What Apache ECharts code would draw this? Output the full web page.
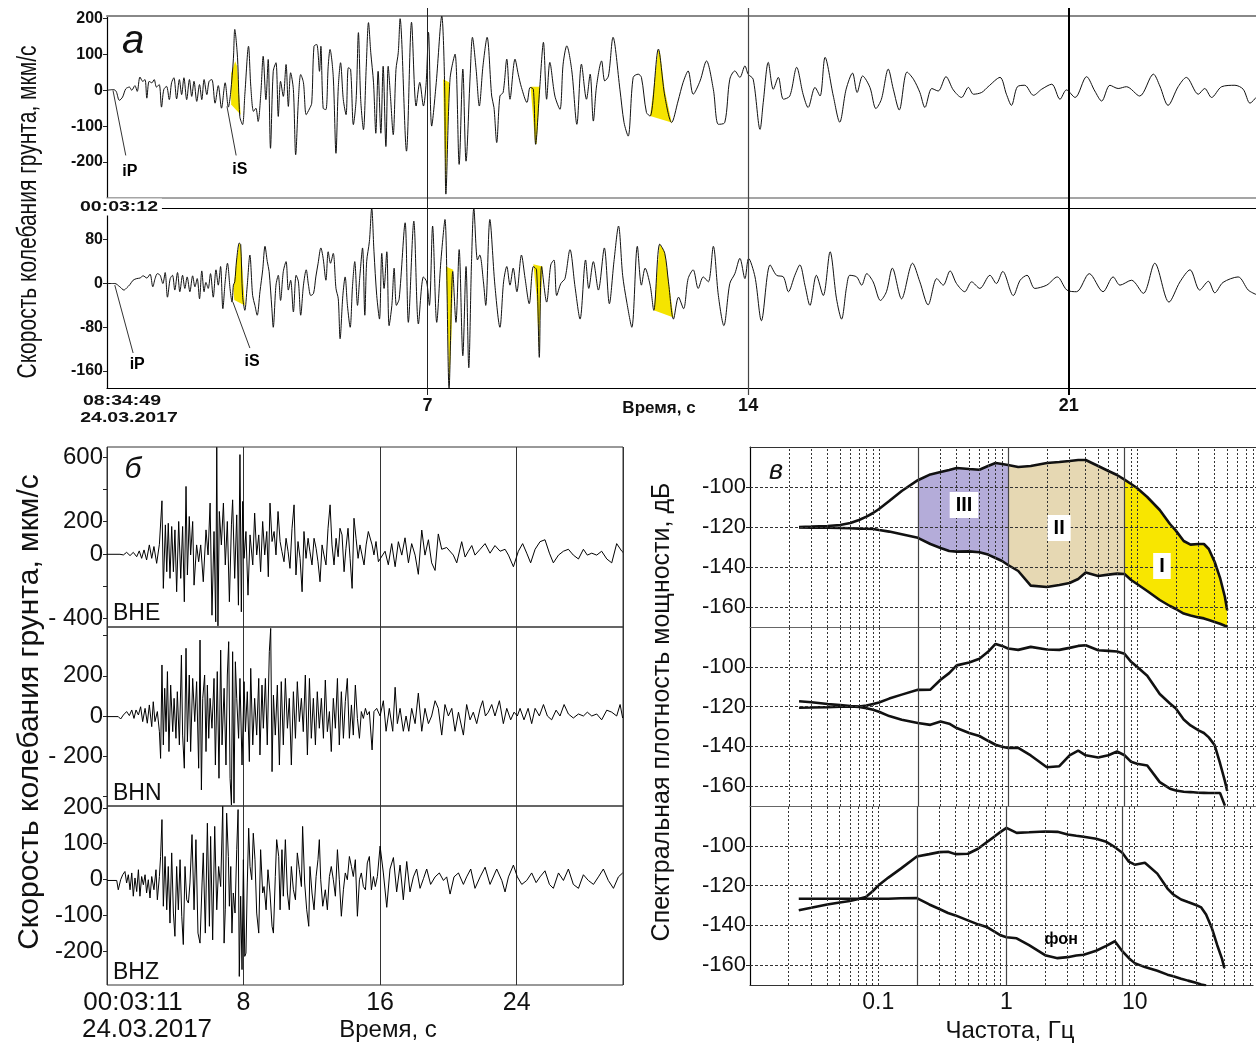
<!DOCTYPE html>
<html><head><meta charset="utf-8">
<script src="https://cdn.jsdelivr.net/npm/echarts@6/dist/echarts.min.js"></script>
<style>html,body{margin:0;padding:0;background:#fff}#c{width:1256px;height:1043px}</style>
</head><body><div id="c"></div>
<script>
// ---------------- DATA ----------------
// Panel a: time (s) from 08:34:49, velocity (mkm/s)
const traceA1 = [[0,0],[0.14,2],[0.20,-3],[0.27,-28],[0.34,-19],[0.41,4],[0.49,9],[0.54,0],[0.61,13],[0.66,-3],[0.72,37],[0.78,25],[0.83,30],[0.87,-22],[0.92,25],[0.98,21],[1.03,30],[1.08,9],[1.14,16],[1.19,-47],[1.24,2],[1.30,11],[1.36,-26],[1.41,21],[1.46,35],[1.52,-24],[1.58,30],[1.63,-12],[1.68,35],[1.74,-26],[1.80,30],[1.85,-17],[1.90,25],[1.96,-31],[2.02,16],[2.07,-26],[2.12,30],[2.18,-12],[2.23,25],[2.29,30],[2.36,-36],[2.43,13],[2.50,-50],[2.58,21],[2.65,-47],[2.70,-7],[2.76,88],[2.79,170],[2.85,91],[2.90,-73],[2.96,-96],[3.01,-12],[3.09,123],[3.14,11],[3.20,-59],[3.25,-50],[3.30,-87],[3.36,-7],[3.41,95],[3.47,-26],[3.52,86],[3.57,-162],[3.63,53],[3.69,77],[3.74,-73],[3.79,25],[3.85,-17],[3.91,72],[3.96,-45],[4.01,49],[4.07,2],[4.12,-180],[4.18,-26],[4.23,44],[4.29,21],[4.35,-68],[4.42,-52],[4.47,-36],[4.52,123],[4.58,128],[4.64,53],[4.67,123],[4.72,-50],[4.78,-54],[4.83,67],[4.87,114],[4.94,39],[5.00,-176],[5.05,7],[5.10,77],[5.16,-26],[5.22,-68],[5.27,63],[5.32,58],[5.38,-96],[5.44,-26],[5.49,161],[5.54,-26],[5.60,-110],[5.66,63],[5.71,189],[5.76,105],[5.82,21],[5.87,-120],[5.92,53],[5.98,-120],[6.03,67],[6.09,-157],[6.14,67],[6.19,-17],[6.25,-124],[6.31,58],[6.36,105],
[6.40,200],[6.54,-170],[6.65,190],[6.75,-44],[6.83,22],[6.91,-44],[6.97,22],[7.02,162],[7.09,-100],[7.19,22],[7.31,207],[7.37,31],[7.40,-290],[7.49,31],[7.60,101],[7.69,-207],[7.77,59],[7.84,-198],[7.93,40],[7.98,148],[8.06,59],[8.13,-44],[8.21,68],[8.30,148],[8.40,-16],[8.45,-48],[8.51,-146],[8.58,-16],[8.65,-6],[8.73,87],[8.80,-25],[8.91,87],[8.98,45],[9.05,8],[9.17,-34],[9.24,8],[9.31,3],[9.36,-151],[9.45,8],[9.53,134],[9.60,-25],[9.67,78],[9.78,-16],[9.89,-53],[9.96,73],[10.04,124],[10.15,54],[10.26,-95],[10.36,73],[10.47,-25],[10.55,45],[10.62,-86],[10.69,12],[10.80,82],[10.87,26],[10.95,40],[11.05,148],[11.20,3],[11.29,-90],[11.38,-128],[11.49,36],[11.60,45],[11.67,36],[11.78,-62],[11.86,-72],[12.04,115],[12.18,-16],[12.33,-90],[12.47,-30],[12.58,22],[12.69,54],[12.80,-11],[12.95,26],[13.09,82],[13.24,3],[13.35,-95],[13.49,-90],[13.60,31],[13.71,54],[13.82,36],[13.93,68],[14.00,45],[14.11,31],[14.26,-109],[14.33,-34],[14.44,78],[14.55,3],[14.66,36],[14.77,-25],[14.91,-16],[15.06,64],[15.20,-11],[15.31,-48],[15.46,8],[15.57,-16],
[15.68,92],[15.86,-16],[16.00,-89],[16.14,3],[16.28,48],[16.38,-6],[16.50,40],[16.66,8],[16.79,-51],[16.91,-25],[17.06,59],[17.17,3],[17.30,-55],[17.47,51],[17.61,31],[17.75,-6],[17.86,-48],[18.01,5],[18.15,-2],[18.32,38],[18.48,1],[18.66,-20],[18.81,8],[18.92,-11],[19.10,-6],[19.24,10],[19.50,36],[19.64,-11],[19.75,-42],[19.88,10],[20.04,14],[20.23,-14],[20.41,3],[20.63,17],[20.81,-25],[20.95,1],[21.14,-20],[21.39,38],[21.57,-2],[21.72,-30],[21.90,14],[22.08,5],[22.26,10],[22.55,-16],[22.85,45],[22.99,12],[23.17,-42],[23.39,10],[23.57,36],[23.83,-11],[23.97,5],[24.12,-20],[24.34,10],[24.63,14],[24.81,3],[24.96,-36],[25.09,-20]];

const traceA2 = [[0,0],[0.17,0],[0.28,-6],[0.37,-12],[0.43,-8],[0.50,-2],[0.57,6],[0.65,9],[0.72,10],[0.79,14],[0.87,10],[0.94,17],[1.00,-6],[1.05,9],[1.10,18],[1.16,15],[1.22,0],[1.27,20],[1.32,-25],[1.38,9],[1.43,15],[1.48,-12],[1.54,20],[1.59,-15],[1.65,15],[1.70,-9],[1.75,12],[1.81,-15],[1.87,14],[1.92,-6],[1.97,9],[2.02,-28],[2.07,23],[2.12,-15],[2.16,2],[2.21,-9],[2.26,18],[2.32,-25],[2.38,25],[2.43,-3],[2.48,31],[2.53,-46],[2.58,3],[2.63,37],[2.69,-12],[2.73,-34],[2.76,-3],[2.79,3],[2.83,43],[2.89,74],[2.92,71],[2.96,-22],[3.01,-49],[3.06,-6],[3.12,52],[3.18,-22],[3.23,-40],[3.28,-58],[3.34,-15],[3.40,25],[3.45,68],[3.50,40],[3.54,22],[3.60,-46],[3.63,-80],[3.69,-3],[3.74,15],[3.79,-31],[3.85,22],[3.91,40],[3.96,-12],[4.01,6],[4.07,-52],[4.13,15],[4.18,3],[4.23,-58],[4.29,-3],[4.35,25],[4.40,-3],[4.45,-22],[4.51,-18],[4.56,12],[4.61,37],[4.67,65],[4.72,46],[4.78,6],[4.83,58],[4.88,37],[4.94,55],[5.00,-9],[5.05,-28],[5.09,-101],[5.15,-22],[5.20,12],[5.25,-40],[5.31,-80],[5.36,-6],[5.41,40],[5.47,-40],[5.52,12],[5.58,65],[5.63,-58],[5.67,40],[5.73,77],[5.78,138],[5.83,58],[5.89,-22],[5.95,-65],[6.00,55],[6.05,-9],[6.11,58],[6.16,-77],[6.22,-40],[6.27,28],[6.32,-40],[6.38,-28],
[6.51,111],[6.58,-71],[6.70,114],[6.80,-74],[6.91,12],[6.98,3],[7.04,-40],[7.11,105],[7.20,-71],[7.29,40],[7.38,117],[7.47,-191],[7.55,22],[7.62,-71],[7.69,62],[7.77,-132],[7.84,31],[7.90,-154],[7.96,40],[8.01,138],[8.09,43],[8.14,52],[8.22,3],[8.27,-40],[8.36,117],[8.47,-3],[8.58,-80],[8.66,3],[8.73,31],[8.80,-3],[8.87,28],[8.95,-15],[9.05,52],[9.13,9],[9.22,-37],[9.31,31],[9.38,25],[9.44,-135],[9.49,31],[9.60,-34],[9.69,34],[9.76,43],[9.82,-22],[9.91,0],[10.00,9],[10.11,62],[10.22,-6],[10.33,-65],[10.45,43],[10.52,-9],[10.62,40],[10.73,-12],[10.86,65],[10.97,-37],[11.07,40],[11.17,105],[11.26,15],[11.35,-34],[11.46,-80],[11.58,68],[11.67,-3],[11.75,28],[11.86,-3],[11.94,-49],[12.07,72],[12.18,55],[12.26,3],[12.37,-65],[12.48,-25],[12.59,-46],[12.69,9],[12.80,25],[12.91,-9],[13.02,12],[13.13,3],[13.24,68],[13.35,-22],[13.47,-77],[13.60,0],[13.71,18],[13.82,46],[13.93,9],[14.01,46],[14.15,12],[14.29,-68],[14.48,34],[14.62,15],[14.77,12],[14.88,-15],[15.02,15],[15.13,34],[15.24,-3],[15.35,-40],[15.49,15],[15.64,-22],
[15.79,58],[15.93,-28],[16.04,-65],[16.15,-6],[16.22,15],[16.37,12],[16.48,-3],[16.59,18],[16.73,3],[16.89,-31],[17.02,-15],[17.15,28],[17.35,-28],[17.59,37],[17.75,3],[17.93,-39],[18.12,9],[18.26,-3],[18.41,23],[18.55,0],[18.73,-15],[18.88,3],[19.06,-9],[19.28,15],[19.42,0],[19.56,22],[19.79,-22],[19.94,6],[20.09,15],[20.26,-9],[20.52,-3],[20.75,12],[20.96,-12],[21.17,-15],[21.45,18],[21.75,-15],[21.97,12],[22.12,-3],[22.37,6],[22.63,-18],[22.88,37],[23.19,-34],[23.43,3],[23.65,25],[23.86,-12],[24.05,4],[24.19,-17],[24.37,2],[24.70,12],[24.92,-12],[25.09,-20]];

// yellow highlighted half-periods (vertices, data units)
const fillsA1 = [
  [[2.71,47],[2.80,81],[2.84,67],[2.92,-68],[2.71,-40]],
  [[7.34,31],[7.48,22],[7.43,-130],[7.40,-290],[7.36,-100]],
  [[9.25,10],[9.46,10],[9.38,-150],[9.35,-150]],
  [[11.86,-72],[12.04,115],[12.08,100],[12.18,0],[12.33,-90]]
];
const fillsA2 = [
  [[2.76,-10],[2.83,43],[2.89,74],[2.92,71],[3.01,-40],[2.78,-30]],
  [[7.40,31],[7.56,25],[7.52,-100],[7.47,-190],[7.44,-60]],
  [[9.31,35],[9.51,31],[9.45,-74],[9.44,-135],[9.38,-22]],
  [[11.94,-49],[12.07,72],[12.18,57],[12.37,-62]]
];
const phaseNames = ['iP','iS'];
const phaseA1 = [[0.50,-227],[2.90,-221]];
const leadA1 = [[[0.13,0],[0.41,-182]],[[2.62,-45],[2.82,-182]]];
const phaseA2 = [[0.66,-149],[3.17,-143]];
const leadA2 = [[[0.17,-3],[0.57,-127]],[[2.75,-34],[3.12,-118]]];

const ticksA1 = [200,100,0,-100,-200];
const ticksA2 = [80,0,-80,-160];
const timeTicksA = [7,14,21];

// Panel б: time (s) from 00:03:11
const traceBHE = [[0,-2],[0.76,-2],[0.96,-6],[1.15,10],[1.35,-10],[1.54,10],[1.74,-17],[1.89,19],[2.03,-27],[2.17,25],[2.32,-37],[2.48,56],[2.62,-27],[2.75,46],[2.91,-58],[3.07,60],[3.16,56],[3.22,329],[3.30,-213],[3.42,180],[3.50,-110],[3.59,190],[3.69,-151],[3.79,170],[3.89,-110],[3.98,149],[4.08,-234],[4.20,201],[4.32,-151],[4.43,170],[4.53,-296],[4.63,418],[4.71,-130],[4.82,232],[4.90,-6],[5.02,201],[5.10,-193],[5.25,56],[5.37,-48],[5.49,56],[5.64,-172],[5.80,149],[5.92,-6],[6.04,315],[6.15,-379],[6.27,139],[6.37,-420],[6.43,660],[6.50,-445],[6.58,263],[6.70,56],[6.82,315],[6.93,-68],[7.05,201],[7.17,-296],[7.29,180],[7.36,335],[7.48,-151],[7.60,242],[7.70,-317],[7.79,615],[7.87,-358],[7.95,325],[8.03,-27],[8.14,139],[8.26,-255],[8.38,118],[8.54,-68],[8.65,253],[8.77,-6],[8.89,118],[9.00,-110],[9.12,201],[9.24,-6],[9.36,139],[9.45,-141],[9.55,315],[9.67,77],[9.79,139],[9.90,-6],[10.02,263],[10.14,77],[10.25,14],[10.37,-48],[10.49,97],[10.61,14],[10.72,-89],[10.84,159],[10.96,304],[11.07,-130],[11.19,77],[11.31,-27],[11.43,-234],[11.54,139],[11.66,-27],[11.78,97],[11.89,14],[12.01,-68],[12.13,97],[12.25,35],[12.36,-48],[12.48,-172],[12.60,56],[12.71,-6],[12.83,-68],[12.95,159],[13.07,304],[13.18,56],[13.30,-68],[13.42,97],[13.54,-17],[13.65,159],[13.77,118],[13.89,-110],[14.00,35],[14.12,159],[14.24,-27],[14.36,-213],[14.47,221],[14.59,97],[14.71,-27],[14.82,56],[14.94,-6],[15.06,-68],[15.18,56],[15.31,139],[15.41,149],[15.53,56],[15.64,-6],[15.76,77],[15.90,-48],
[16.0,-31],[16.29,17],[16.48,-67],[16.68,64],[16.88,-79],[17.07,76],[17.27,-7],[17.46,100],[17.66,-55],[17.85,64],[18.05,-7],[18.24,-126],[18.44,148],[18.63,-7],[18.83,88],[19.02,-55],[19.22,-102],[19.41,124],[19.61,29],[19.90,40],[20.29,-7],[20.49,-55],[20.78,76],[20.98,-19],[21.17,17],[21.37,52],[21.56,-7],[21.86,29],[22.15,64],[22.44,5],[22.73,52],[23.03,17],[23.32,29],[23.52,-7],[23.81,-79],[24.10,17],[24.35,64],[24.59,5],[24.82,-55],[25.08,29],[25.37,76],[25.66,88],[25.92,5],[26.15,-55],[26.45,-7],[26.74,17],[27.03,29],[27.32,-7],[27.62,-31],[27.91,29],[28.14,-7],[28.40,5],[28.69,-7],[28.98,17],[29.28,-31],[29.57,-55],[29.86,64],[30.16,17],[30.23,10]];

const traceBHN = [[0,-3],[0.66,-3],[0.80,-15],[0.96,5],[1.15,22],[1.31,2],[1.45,30],[1.58,-12],[1.70,30],[1.84,5],[1.97,46],[2.09,-28],[2.23,38],[2.36,-36],[2.48,55],[2.62,-53],[2.71,71],[2.81,-28],[2.95,22],[3.07,-78],[3.14,-211],[3.22,254],[3.30,-144],[3.38,138],[3.46,-78],[3.54,221],[3.63,-177],[3.73,154],[3.85,-78],[3.93,88],[4.04,-111],[4.12,121],[4.24,-144],[4.36,303],[4.43,-95],[4.53,-260],[4.63,337],[4.71,-128],[4.82,204],[4.90,-177],[5.02,187],[5.14,-28],[5.25,171],[5.37,-260],[5.45,378],[5.53,-368],[5.61,88],[5.72,204],[5.80,-177],[5.88,154],[5.96,-111],[6.04,88],[6.15,-61],[6.27,187],[6.35,-244],[6.46,221],[6.56,-310],[6.66,328],[6.74,-144],[6.86,138],[6.97,-244],[7.05,204],[7.13,370],[7.21,-310],[7.29,-443],[7.36,320],[7.44,-434],[7.52,270],[7.60,88],[7.71,-111],[7.79,187],[7.91,-244],[8.03,171],[8.11,-78],[8.22,121],[8.34,-227],[8.42,237],[8.54,-144],[8.65,88],[8.77,-95],[8.89,187],[8.96,-194],[9.08,154],[9.16,-61],[9.28,187],[9.39,-144],[9.51,320],[9.59,436],[9.67,-277],[9.75,104],[9.86,-95],[9.98,154],[10.10,-244],[10.21,171],[10.33,-144],[10.45,187],[10.57,-61],[10.68,88],[10.80,-244],[10.92,121],[11.04,-111],[11.15,171],[11.27,-28],[11.39,88],[11.50,-78],[11.62,204],[11.74,-194],[11.86,187],[11.97,-111],[12.09,88],[12.21,-144],[12.32,121],[12.44,-61],[12.56,88],[12.68,-111],[12.79,179],[12.91,-78],[13.03,22],[13.14,-177],[13.26,88],[13.38,-61],[13.50,187],[13.61,-144],[13.73,121],[13.85,-111],[13.96,71],[14.08,187],[14.20,-111],[14.32,55],[14.43,-95],[14.55,154],[14.67,-12],[14.79,-111],[14.90,22],[15.02,-12],[15.14,38],[15.25,5],[15.37,22],[15.53,-169],[15.64,22],[15.80,38],
[16.0,0],[16.19,76],[16.35,-76],[16.54,38],[16.74,-76],[16.88,143],[17.01,-38],[17.17,38],[17.36,-76],[17.52,0],[17.68,-76],[17.85,38],[18.05,-38],[18.24,114],[18.44,-76],[18.63,38],[18.83,-38],[19.02,0],[19.22,76],[19.41,38],[19.61,-95],[19.80,57],[20.0,0],[20.20,38],[20.39,-76],[20.59,19],[20.88,-95],[21.07,57],[21.27,-19],[21.46,19],[21.66,-38],[21.86,38],[22.01,76],[22.17,0],[22.34,19],[22.54,57],[22.73,0],[22.99,76],[23.22,-38],[23.42,38],[23.65,-19],[23.85,19],[24.04,0],[24.20,38],[24.43,-19],[24.67,38],[24.88,-38],[25.08,38],[25.33,0],[25.57,57],[25.80,0],[26.05,-19],[26.31,29],[26.54,0],[26.78,57],[27.03,10],[27.32,-10],[27.62,10],[27.91,0],[28.14,19],[28.40,0],[28.69,10],[28.98,-19],[29.28,29],[29.57,19],[29.86,0],[30.06,57],[30.21,-10]];

const traceBHZ = [[0,-3],[0.57,-3],[0.66,-29],[0.80,-1],[0.92,13],[1.05,22],[1.15,-10],[1.25,13],[1.35,-29],[1.45,18],[1.54,-47],[1.64,4],[1.74,-34],[1.84,27],[1.93,-47],[2.03,8],[2.13,-15],[2.23,13],[2.32,-38],[2.42,-1],[2.52,-52],[2.62,8],[2.75,-29],[2.87,27],[2.95,-57],[3.07,8],[3.14,64],[3.22,167],[3.30,-75],[3.40,64],[3.50,-85],[3.59,36],[3.69,-122],[3.79,74],[3.89,-94],[3.98,-159],[4.08,36],[4.18,-85],[4.28,55],[4.38,-103],[4.47,-182],[4.57,36],[4.67,-57],[4.77,-66],[4.86,-10],[4.98,125],[5.10,-85],[5.21,111],[5.33,-150],[5.45,-178],[5.57,-10],[5.64,74],[5.76,-150],[5.88,157],[6.00,-131],[6.07,120],[6.19,-169],[6.31,148],[6.43,-85],[6.54,36],[6.66,-20],[6.78,204],[6.86,-178],[6.93,-85],[7.01,185],[7.11,64],[7.17,-75],[7.25,36],[7.32,-150],[7.40,-38],[7.50,-94],[7.60,83],[7.68,195],[7.75,-271],[7.83,-47],[7.91,-252],[7.99,55],[8.07,-215],[8.14,-206],[8.22,-10],[8.30,143],[8.38,36],[8.48,-1],[8.57,129],[8.67,55],[8.77,-94],[8.89,-150],[9.00,83],[9.12,-38],[9.20,-20],[9.32,-85],[9.43,27],[9.55,-38],[9.67,-131],[9.75,-150],[9.86,8],[9.94,111],[10.06,64],[10.14,-85],[10.25,83],[10.33,-47],[10.45,111],[10.57,-38],[10.68,-85],[10.80,36],[10.92,-29],[11.04,-57],[11.15,74],[11.27,27],[11.39,-20],[11.46,148],[11.58,-10],[11.70,-85],[11.82,-131],[11.89,36],[12.01,-38],[12.13,-85],[12.25,8],[12.36,55],[12.44,111],[12.52,-1],[12.64,-75],[12.79,-29],[12.91,-85],[13.03,8],[13.14,36],[13.26,-1],[13.38,-47],[13.50,83],[13.61,-1],[13.73,-103],[13.85,-29],[13.96,18],[14.08,-1],[14.20,64],[14.32,36],[14.43,8],[14.55,55],[14.67,-103],[14.79,-1],[14.90,18],[15.02,-20],[15.14,-29],[15.25,46],[15.37,64],[15.49,-29],[15.61,8],[15.72,-20],[15.84,8],
[16.0,93],[16.19,18],[16.39,-78],[16.58,29],[16.78,61],[16.97,-35],[17.17,40],[17.36,-57],[17.56,50],[17.75,-35],[17.95,7],[18.14,29],[18.34,-25],[18.54,2],[18.73,29],[18.96,-14],[19.22,7],[19.47,18],[19.71,-3],[19.90,7],[20.10,-41],[20.33,7],[20.59,18],[20.88,-14],[21.07,7],[21.31,29],[21.56,-25],[21.86,7],[22.15,34],[22.44,-14],[22.83,29],[23.13,-3],[23.32,-35],[23.52,7],[23.81,40],[24.04,7],[24.30,-14],[24.59,-3],[24.88,18],[25.14,-9],[25.37,7],[25.66,24],[25.92,-14],[26.15,-25],[26.45,18],[26.74,-3],[27.03,29],[27.32,-14],[27.62,-25],[27.91,13],[28.20,-3],[28.50,-14],[28.79,7],[29.08,29],[29.37,-3],[29.67,-25],[29.96,7],[30.21,18]];

const channelNames = ['BHE','BHN','BHZ'];
const ticksBHE = [600,200,0,-400], minorBHE = [600,400,200,0,-200,-400];
const ticksBHN = [200,0,-200], minorBHN = [400,200,0,-200,-400];
const ticksBHZ = [200,100,0,-100,-200];
const timeTicksB = [8,16,24];

// Panel в: power spectral density (dB) vs frequency (Hz)
const freq = [0.024,0.03,0.04,0.05,0.06,0.07,0.08,0.09,0.1,0.12,0.15,0.2,0.25,0.3,0.35,0.4,0.5,0.6,0.7,0.8,0.9,1,1.2,1.5,2,2.5,3,3.5,4,5,6,7,8,9,10,12,15,18,20,23,26,30,33,36,40,44,48,50];
const specTopUpper = [-120,-119.8,-119.5,-119,-118,-116.5,-114.8,-113,-111,-107,-102,-96.6,-93.7,-92.5,-91.5,-90.5,-91,-91.4,-89.5,-88,-88.5,-89,-90,-89.5,-88,-87.5,-87,-86.5,-86.5,-89.5,-92,-94,-96.3,-98.5,-100.5,-105,-111.5,-118.5,-121.8,-127,-128.8,-128.5,-128.5,-131,-137.5,-145.4,-155,-161.7];
const specTopLower = [-120.2,-120.3,-120.4,-120.5,-120.6,-120.8,-120.9,-121,-121.5,-122.3,-123.6,-125.4,-128.5,-130.5,-132,-132.3,-132.2,-132.6,-133.8,-135.5,-137,-139,-142,-149.3,-150,-149,-148,-146,-142.8,-144.5,-143.8,-143.3,-143.5,-146.5,-148.5,-152,-156.5,-159.5,-161,-163.3,-164.2,-165.2,-165.7,-166.5,-167.5,-168.4,-169.4,-169.6];
const specMidUpper = [-117.3,-117.8,-118.7,-119.3,-119.8,-120,-119.5,-118.7,-118,-116,-114,-111.6,-111.5,-106.5,-103.2,-99.3,-97.8,-96,-92.5,-88.5,-89.5,-90.8,-91.5,-90,-91.3,-91.5,-90.5,-89.5,-89.2,-91.7,-92,-92.3,-93.5,-97.5,-100,-104.5,-113.7,-118.5,-121,-126.5,-129.5,-132,-133.3,-135.5,-139.5,-148.5,-157.5,-162.5];
const specMidLower = [-120.6,-120.5,-120.3,-120.1,-120,-120.2,-120.8,-121.6,-122.6,-124.8,-126.6,-128.3,-129.2,-127.5,-128.6,-130.8,-133.3,-134.8,-137.2,-139.2,-140.2,-140.8,-140.8,-144.6,-150.5,-150,-144.5,-142.2,-144.5,-145.6,-144.5,-142.6,-144.5,-147.8,-148.8,-149.6,-158,-161.3,-162.2,-162.8,-163,-163.3,-163.4,-163.5,-163.5,-163.5,-169.8,null];
const specBotUpper = [-132.4,-131.2,-129.5,-128.5,-127.8,-126.8,-125.7,-123,-120,-116,-111.5,-105.4,-104.2,-103.2,-103,-104.2,-104,-101.5,-98.2,-95.5,-93,-91,-93.5,-93.2,-92.8,-93,-94.3,-95,-95.5,-96.5,-98,-100.7,-103.5,-108,-109.5,-108.5,-114,-121.5,-124.5,-127,-128.3,-129.8,-131,-134.5,-141.5,-150,-157,-161.6];
const specBotLower = [-126.6,-126.6,-126.6,-126.6,-126.6,-126.6,-126.6,-126.6,-126.6,-126.6,-126.4,-126.3,-129.5,-131.8,-133.8,-135,-137.5,-139.5,-140.8,-143,-145,-146,-146.5,-150,-155,-156.5,-156,-155.2,-154.8,-152.8,-150.3,-148,-153,-156.5,-159,-161,-162.8,-164.8,-165.6,-166.8,-167.8,-168.9,-169.7,-170.3,null,null,null,null];
const bandEdges = [0.2, 1, 8, 50];
const bandNames = ['III','II','I'];
const bandLabelPos = [[0.456,-109],[2.49,-120.5],[15.6,-139.5]];
const noiseLabel = 'фон', noiseLabelPos = [2.67,-147];
const dbTicks = [-100,-120,-140,-160];
const freqTickLabels = [0.1, 1, 10];
const gridFreqs = [0.02,0.03,0.04,0.05,0.06,0.07,0.08,0.09,0.1,0.2,0.3,0.4,0.5,0.6,0.7,0.8,0.9,1,2,3,4,5,6,7,8,9,10,20,30,40,50,60,70,80];
const solidFreqs = [0.2, 1, 8];

// ---------------- CHART ----------------
const FONT = "'Liberation Sans', Arial, sans-serif";
const INK = '#111';
const chart = echarts.init(document.getElementById('c'), null, {renderer:'canvas', width:1256, height:1043});

function trace(data, xi, yi, w, color, smooth){
  return {type:'line', data, xAxisIndex:xi, yAxisIndex:yi, showSymbol:false, symbol:'none', smooth:smooth||false,
    lineStyle:{width:w, color}, itemStyle:{color}, z:3, silent:true, animation:false, clip:true};
}
function polys(list, xi, yi, color){
  return {type:'custom', xAxisIndex:xi, yAxisIndex:yi, silent:true, z:2, animation:false,
    data: list.map((p,i)=>[p[0][0], p[0][1], i]),
    renderItem:(params, api)=>({type:'polygon', shape:{points:list[params.dataIndex].map(p=>api.coord(p))}, style:{fill:'#f5e400'}})};
}
function leaders(list, xi, yi){
  const d = [];
  list.forEach(seg=>{ d.push(seg[0], seg[1], [seg[1][0], null]); });
  return {type:'line', data:d, xAxisIndex:xi, yAxisIndex:yi, showSymbol:false, symbol:'none', connectNulls:false,
    lineStyle:{width:1, color:'#333'}, z:3, silent:true, animation:false};
}
function textPoints(pos, names, xi, yi, style){
  return {type:'scatter', xAxisIndex:xi, yAxisIndex:yi, symbolSize:1, silent:true, z:6, animation:false,
    itemStyle:{color:'rgba(0,0,0,0)'},
    data: pos.map((p,i)=>({value:p, name:names[i]})),
    label:Object.assign({show:true, position:'inside', formatter:'{b}', color:'#000', textBorderWidth:0, textBorderColor:'transparent', opacity:1, fontFamily:FONT}, style)};
}
function spec(up, lo, xi, yi){
  return [
    trace(freq.map((f,i)=>[f, up[i]]), xi, yi, 2.6, '#111'),
    trace(freq.map((f,i)=>[f, lo[i]]), xi, yi, 2.6, '#111')
  ];
}
function specGrid(xi, yi){
  const d = [];
  gridFreqs.forEach(f=>d.push({xAxis:f, lineStyle:{color:'#333', type:[2,2], width:1}}));
  dbTicks.forEach(v=>d.push({yAxis:v, lineStyle:{color:'#333', type:[3,2], width:1}}));
  solidFreqs.forEach(f=>d.push({xAxis:f, lineStyle:{color:'#444', type:'solid', width:1.2}}));
  return {type:'line', xAxisIndex:xi, yAxisIndex:yi, data:[[1,-500]], showSymbol:false, symbol:'none', lineStyle:{width:0}, z:2, silent:true, animation:false,
    markLine:{silent:true, symbol:['none','none'], label:{show:false}, animation:false, data:d}};
}

const grids = [
  {left:107, top:16, width:1149, height:181.7},          // 0 A1
  {left:107, top:208, width:1149, height:180},           // 1 A2
  {left:107, top:8, width:1149, height:387},             // 2 overlay a
  {left:107, top:447, width:516, height:180, show:true, borderColor:'#333', borderWidth:1}, // 3 BHE
  {left:107, top:627, width:516, height:179, show:true, borderColor:'#333', borderWidth:1}, // 4 BHN
  {left:107, top:806, width:516, height:179, show:true, borderColor:'#333', borderWidth:1}, // 5 BHZ
  {left:750, top:447, width:506, height:180},            // 6 C1
  {left:750, top:627, width:506, height:179},            // 7 C2
  {left:750, top:806, width:506, height:179}             // 8 C3
];

const TMAXA = 25.09, TMAXB = 30.23, FMIN = 0.01, FMAX = 83.6;
function xA(gi, pos, color, labels, w){
  return {type:'value', gridIndex:gi, position:pos, min:0, max:TMAXA,
    axisLine:{show:true, onZero:false, lineStyle:{color, width:w||1.2}}, axisTick:{show:false},
    axisLabel: labels ? {customValues:labels, fontSize:18, fontWeight:'bold', color:INK, margin:9, fontFamily:FONT} : {show:false},
    splitLine:{show:false}};
}
function xB(gi, labels){
  return {type:'value', gridIndex:gi, min:0, max:TMAXB, interval:8,
    axisLine:{show:false}, axisTick:{show:false},
    axisLabel: labels ? {fontSize:25, color:INK, margin:6, fontFamily:FONT, formatter:v=>timeTicksB.includes(v)?String(v):''} : {show:false},
    splitLine:{show:true, lineStyle:{color:'#333', width:1}}};
}
function xC(gi, pos, labels, lineColor){
  return {type:'log', logBase:10, gridIndex:gi, position:pos, min:FMIN, max:FMAX,
    axisLine:{show:true, onZero:false, lineStyle:{color:lineColor, width:1.2}}, axisTick:{show:false},
    axisLabel: labels ? {fontSize:23, color:INK, margin:6, fontFamily:FONT, formatter:v=>{const s=+(+v).toPrecision(3); return freqTickLabels.includes(s)?String(s):'';}} : {show:false},
    splitLine:{show:false}, minorSplitLine:{show:false}};
}
function yAx(gi, min, max, labels, ticks, size, bold, fmt, lineShow){
  return {type:'value', gridIndex:gi, min, max,
    axisLine:{show:lineShow!==false, onZero:false, lineStyle:{color:'#000', width:1.2}},
    axisTick:{show:true, customValues:ticks, length:4, lineStyle:{color:'#222'}},
    axisLabel:{customValues:labels, fontSize:size, fontWeight:bold?'bold':'normal', color:INK, margin:4, fontFamily:FONT, formatter:fmt||(v=>String(v))},
    splitLine:{show:false}};
}
const spaced = v => String(v).replace('-', '- ');

const option = {
  animation:false,
  backgroundColor:'#fff',
  textStyle:{fontFamily:FONT},
  grid:grids,
  xAxis:[
    xA(0,'bottom','#888',null,1.5),      //0
    xA(0,'top','#888',null,2),           //1
    xA(1,'bottom','#000',timeTicksA),    //2
    xA(1,'top','#000',null),             //3
    {type:'value', gridIndex:2, min:0, max:TMAXA, show:false}, //4
    xB(3,false), xB(4,false), xB(5,true), //5,6,7
    xC(6,'bottom',false,'#666'),     //8
    xC(6,'top',false,'#333'),        //9
    xC(7,'bottom',false,'#666'),     //10
    xC(8,'bottom',true,'#333')       //11
  ],
  yAxis:[
    yAx(0,-300,207.5,ticksA1,ticksA1,16,true),   //0
    yAx(1,-191,138,ticksA2,ticksA2,16,true),     //1
    {type:'value', gridIndex:2, min:0, max:1, show:false}, //2
    yAx(3,-452,662,ticksBHE,minorBHE,24,false,spaced,false), //3
    yAx(4,-448,443,ticksBHN,minorBHN,24,false,spaced,false), //4
    yAx(5,-295,205,ticksBHZ,ticksBHZ,24,false,null,false),   //5
    yAx(6,-170,-80,dbTicks,dbTicks,22,false),   //6
    yAx(7,-170,-80,dbTicks,dbTicks,22,false),   //7
    yAx(8,-170,-80,dbTicks,dbTicks,22,false)    //8
  ],
  series:[
    // panel a
    polys(fillsA1,0,0),
    trace(traceA1,0,0,1,'#111',0.3),
    leaders(leadA1,0,0),
    textPoints(phaseA1,phaseNames,0,0,{fontSize:16,fontWeight:'bold'}),
    polys(fillsA2,2,1),
    trace(traceA2,2,1,1,'#111',0.3),
    leaders(leadA2,2,1),
    textPoints(phaseA2,phaseNames,2,1,{fontSize:16,fontWeight:'bold'}),
    {type:'line', xAxisIndex:4, yAxisIndex:2, data:[[0,-5]], showSymbol:false, symbol:'none', lineStyle:{width:0}, silent:true, z:4,
      markLine:{silent:true, symbol:['none','none'], label:{show:false}, animation:false,
        data:[{xAxis:timeTicksA[0], lineStyle:{color:'#222',width:1,type:'solid'}},
              {xAxis:timeTicksA[1], lineStyle:{color:'#444',width:1.2,type:'solid'}},
              {xAxis:timeTicksA[2], lineStyle:{color:'#000',width:2,type:'solid'}}]}},
    // panel б
    trace(traceBHE,5,3,1,'#000'),
    trace(traceBHN,6,4,1,'#000'),
    trace(traceBHZ,7,5,1,'#000'),
    // panel в
    {type:'custom', xAxisIndex:8, yAxisIndex:6, silent:true, z:1, animation:false,
      data: bandNames.map((n,i)=>[bandEdges[i], -120, i]),
      renderItem:(params, api)=>{
        const b = params.dataIndex, f0 = bandEdges[b], f1 = bandEdges[b+1];
        const top = [], bot = [];
        freq.forEach((f,i)=>{ if (f>=f0-1e-9 && f<=f1+1e-9 && specTopUpper[i]!=null && specTopLower[i]!=null){
          top.push(api.coord([f, specTopUpper[i]])); bot.push(api.coord([f, specTopLower[i]])); }});
        const cols = ['#b4acd9','#e6d8b3','#f8e600'];
        return {type:'polygon', shape:{points: top.concat(bot.reverse())}, style:{fill: cols[b]}};
      }},
    specGrid(8,6), specGrid(10,7), specGrid(11,8),
    ...spec(specTopUpper, specTopLower, 8, 6),
    ...spec(specMidUpper, specMidLower, 10, 7),
    ...spec(specBotUpper, specBotLower, 11, 8),
    textPoints(bandLabelPos, bandNames, 8, 6, {fontSize:20, fontWeight:'bold', backgroundColor:'#fff', padding:[3,6]}),
    textPoints([noiseLabelPos], [noiseLabel], 11, 8, {fontSize:16, fontWeight:'bold'})
  ],
  graphic:[
    {type:'text', x:28, y:212, rotation:Math.PI/2, scaleY:1.3, z:100,
      style:{text:'Скорость колебания грунта, мкм/с', fontSize:21, fontFamily:FONT, fill:INK, textAlign:'center', textVerticalAlign:'middle'}},
    {type:'text', x:133, y:42, z:100, style:{text:'а', fontSize:40, fontStyle:'italic', fontFamily:FONT, fill:INK, textAlign:'center', textVerticalAlign:'middle'}},
    {type:'text', x:119, y:207, scaleX:1.3, z:100, style:{text:'00:03:12', fontSize:15, fontWeight:'bold', fontFamily:FONT, fill:INK, textAlign:'center', textVerticalAlign:'middle', backgroundColor:'#fff', padding:[1,3]}},
    {type:'text', x:122, y:401, scaleX:1.3, z:100, style:{text:'08:34:49', fontSize:15, fontWeight:'bold', fontFamily:FONT, fill:INK, textAlign:'center', textVerticalAlign:'middle'}},
    {type:'text', x:129, y:418, scaleX:1.3, z:100, style:{text:'24.03.2017', fontSize:15, fontWeight:'bold', fontFamily:FONT, fill:INK, textAlign:'center', textVerticalAlign:'middle'}},
    {type:'text', x:659, y:408, z:100, style:{text:'Время, с', fontSize:17, fontWeight:'bold', fontFamily:FONT, fill:INK, textAlign:'center', textVerticalAlign:'middle'}},
    // panel б
    {type:'text', x:30, y:712, rotation:Math.PI/2, z:100,
      style:{text:'Скорость колебания грунта, мкм/с', fontSize:30, fontFamily:FONT, fill:INK, textAlign:'center', textVerticalAlign:'middle'}},
    {type:'text', x:133, y:470, z:100, style:{text:'б', fontSize:30, fontStyle:'italic', fontFamily:FONT, fill:INK, textAlign:'center', textVerticalAlign:'middle'}},
    {type:'text', x:113, y:614, z:100, style:{text:channelNames[0], fontSize:23, fontFamily:FONT, fill:INK, textAlign:'left', textVerticalAlign:'middle'}},
    {type:'text', x:113, y:794, z:100, style:{text:channelNames[1], fontSize:23, fontFamily:FONT, fill:INK, textAlign:'left', textVerticalAlign:'middle'}},
    {type:'text', x:113, y:973, z:100, style:{text:channelNames[2], fontSize:23, fontFamily:FONT, fill:INK, textAlign:'left', textVerticalAlign:'middle'}},
    {type:'text', x:133, y:1003, z:100, style:{text:'00:03:11', fontSize:26, fontFamily:FONT, fill:INK, textAlign:'center', textVerticalAlign:'middle'}},
    {type:'text', x:147, y:1030, z:100, style:{text:'24.03.2017', fontSize:26, fontFamily:FONT, fill:INK, textAlign:'center', textVerticalAlign:'middle'}},
    {type:'text', x:388, y:1030, z:100, style:{text:'Время, с', fontSize:24, fontFamily:FONT, fill:INK, textAlign:'center', textVerticalAlign:'middle'}},
    // panel в
    {type:'text', x:662, y:712, rotation:Math.PI/2, z:100,
      style:{text:'Спектральная плотность мощности, дБ', fontSize:25, fontFamily:FONT, fill:INK, textAlign:'center', textVerticalAlign:'middle'}},
    {type:'text', x:776, y:471, z:100, style:{text:'в', fontSize:27, fontStyle:'italic', fontFamily:FONT, fill:INK, textAlign:'center', textVerticalAlign:'middle'}},
    {type:'text', x:1010, y:1031, z:100, style:{text:'Частота, Гц', fontSize:24, fontFamily:FONT, fill:INK, textAlign:'center', textVerticalAlign:'middle'}}
  ]
};
chart.setOption(option);
</script>
</body></html>
